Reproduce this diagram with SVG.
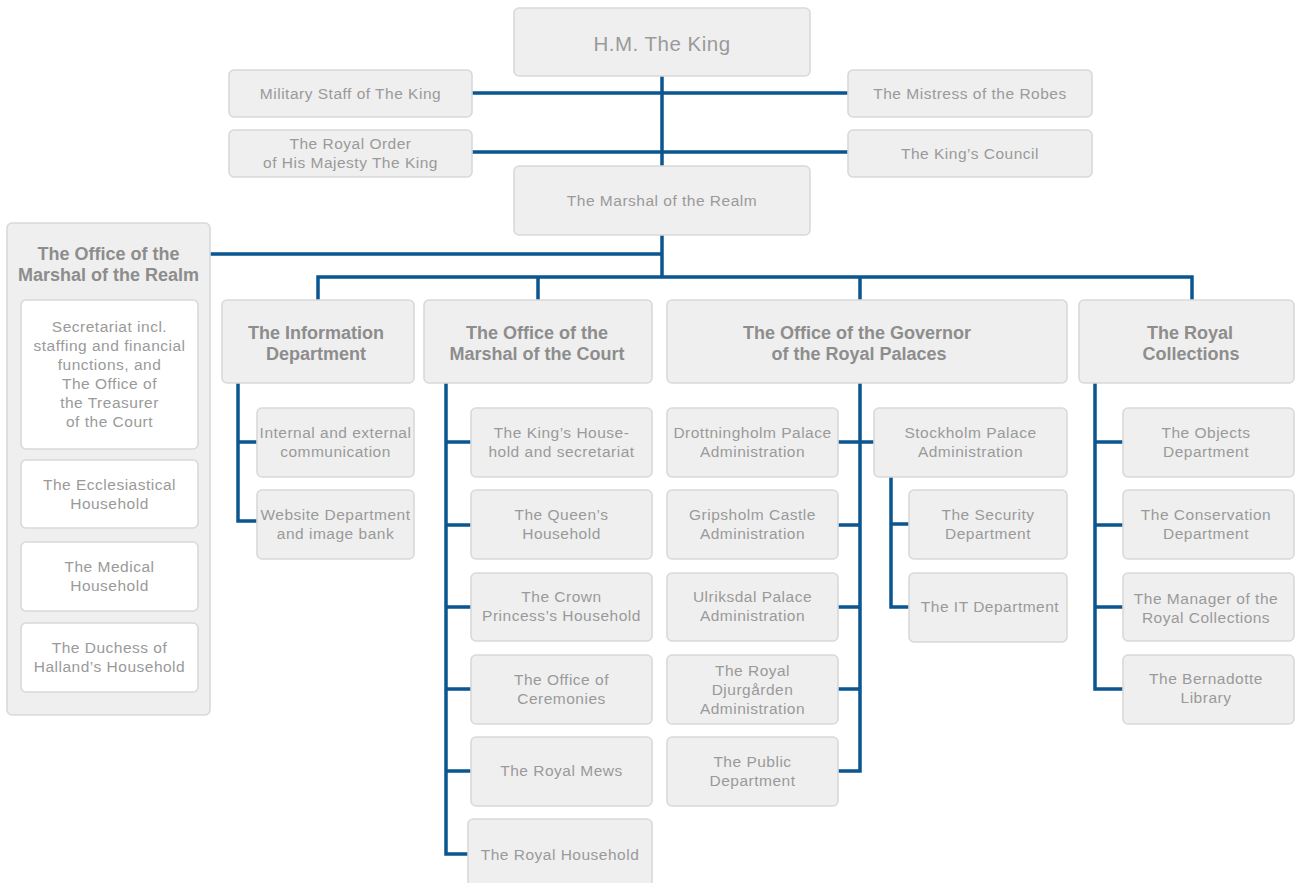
<svg xmlns="http://www.w3.org/2000/svg" width="1295" height="883" viewBox="0 0 1295 883">
<style>
.bx{fill:#efefef;stroke:#d9d9d9;stroke-width:1.6}
.wb{fill:#ffffff;stroke:#d9d9d9;stroke-width:1.6}
.t{font-family:"Liberation Sans",Arial,sans-serif;font-size:15.5px;letter-spacing:0.5px;fill:#9a9a9a;text-anchor:middle}
.b{font-family:"Liberation Sans",Arial,sans-serif;font-size:18px;font-weight:bold;fill:#8d8d8d;text-anchor:middle}
.k{font-family:"Liberation Sans",Arial,sans-serif;font-size:20.5px;letter-spacing:0.5px;fill:#9a9a9a;text-anchor:middle}
.c{fill:none;stroke:#0b5590;stroke-width:3.5;stroke-linejoin:miter}
</style>
<rect width="1295" height="883" fill="#ffffff"/>
<g id="connectors">
<path class="c" d="M662,76V166M472,93H848M472,152H848"/>
<path class="c" d="M662,235V277M210,254H662M318,300V277H1192V300M538,277V300M860,277V300"/>
<path class="c" d="M238,383V521H257M238,442H257"/>
<path class="c" d="M446,383V854H468M446,442H471M446,525H471M446,607H471M446,689H471M446,771H471"/>
<path class="c" d="M860,383V771H838M838,442H874M838,525H860M838,607H860M838,689H860"/>
<path class="c" d="M891,477V607H909M891,524H909"/>
<path class="c" d="M1095,383V689H1123M1095,442H1123M1095,525H1123M1095,607H1123"/>
</g>
<g id="king"><rect class="bx" x="514" y="8" width="296" height="68" rx="5"/><text class="k" x="662" y="51">H.M. The King</text></g>
<g id="military"><rect class="bx" x="229" y="70" width="243" height="47" rx="5"/><text class="t" x="350.5" y="98.5">Military Staff of The King</text></g>
<g id="royal-order"><rect class="bx" x="229" y="130" width="243" height="47" rx="5"/><text class="t" x="350.5" y="148.5">The Royal Order</text><text class="t" x="350.5" y="167.5">of His Majesty The King</text></g>
<g id="mistress"><rect class="bx" x="848" y="70" width="244" height="47" rx="5"/><text class="t" x="970" y="98.5">The Mistress of the Robes</text></g>
<g id="council"><rect class="bx" x="848" y="130" width="244" height="47" rx="5"/><text class="t" x="970" y="158.5">The King’s Council</text></g>
<g id="marshal-realm"><rect class="bx" x="514" y="166" width="296" height="69" rx="5"/><text class="t" x="662" y="205.5">The Marshal of the Realm</text></g>
<g id="office-realm">
<rect class="bx" x="7" y="223" width="203" height="492" rx="5"/>
<text class="b" x="108.5" y="260">The Office of the</text><text class="b" x="108.5" y="281">Marshal of the Realm</text>
<g id="secretariat"><rect class="wb" x="21" y="300" width="177" height="149" rx="5"/>
<text class="t" x="109.5" y="332">Secretariat incl.</text><text class="t" x="109.5" y="351">staffing and financial</text><text class="t" x="109.5" y="370">functions, and</text><text class="t" x="109.5" y="389">The Office of</text><text class="t" x="109.5" y="408">the Treasurer</text><text class="t" x="109.5" y="427">of the Court</text></g>
<g id="ecclesiastical"><rect class="wb" x="21" y="460" width="177" height="68" rx="5"/><text class="t" x="109.5" y="489.5">The Ecclesiastical</text><text class="t" x="109.5" y="508.5">Household</text></g>
<g id="medical"><rect class="wb" x="21" y="542" width="177" height="69" rx="5"/><text class="t" x="109.5" y="572">The Medical</text><text class="t" x="109.5" y="591">Household</text></g>
<g id="duchess"><rect class="wb" x="21" y="623" width="177" height="69" rx="5"/><text class="t" x="109.5" y="653">The Duchess of</text><text class="t" x="109.5" y="672">Halland’s Household</text></g>
</g>
<g id="information"><rect class="bx" x="222" y="300" width="192" height="83" rx="5"/><text class="b" x="316" y="339">The Information</text><text class="b" x="316" y="360">Department</text></g>
<g id="marshal-court"><rect class="bx" x="424" y="300" width="228" height="83" rx="5"/><text class="b" x="537" y="339">The Office of the</text><text class="b" x="537" y="360">Marshal of the Court</text></g>
<g id="governor"><rect class="bx" x="667" y="300" width="400" height="83" rx="5"/><text class="b" x="857" y="339">The Office of the Governor</text><text class="b" x="859" y="360">of the Royal Palaces</text></g>
<g id="collections"><rect class="bx" x="1079" y="300" width="215" height="83" rx="5"/><text class="b" x="1190" y="339">The Royal</text><text class="b" x="1191" y="360">Collections</text></g>
<g id="internal"><rect class="bx" x="257" y="408" width="157" height="69" rx="5"/><text class="t" x="335.5" y="438">Internal and external</text><text class="t" x="335.5" y="457">communication</text></g>
<g id="website"><rect class="bx" x="257" y="490" width="157" height="69" rx="5"/><text class="t" x="335.5" y="520">Website Department</text><text class="t" x="335.5" y="539">and image bank</text></g>
<g id="kings-household"><rect class="bx" x="471" y="408" width="181" height="69" rx="5"/><text class="t" x="561.5" y="438">The King’s House-</text><text class="t" x="561.5" y="457">hold and secretariat</text></g>
<g id="queens-household"><rect class="bx" x="471" y="490" width="181" height="69" rx="5"/><text class="t" x="561.5" y="520">The Queen’s</text><text class="t" x="561.5" y="539">Household</text></g>
<g id="crown-princess"><rect class="bx" x="471" y="573" width="181" height="68" rx="5"/><text class="t" x="561.5" y="602">The Crown</text><text class="t" x="561.5" y="621">Princess’s Household</text></g>
<g id="ceremonies"><rect class="bx" x="471" y="655" width="181" height="69" rx="5"/><text class="t" x="561.5" y="685">The Office of</text><text class="t" x="561.5" y="704">Ceremonies</text></g>
<g id="mews"><rect class="bx" x="471" y="737" width="181" height="69" rx="5"/><text class="t" x="561.5" y="776">The Royal Mews</text></g>
<g id="royal-household"><rect class="bx" x="468" y="819" width="184" height="80" rx="5"/><text class="t" x="560" y="860">The Royal Household</text></g>
<g id="drottningholm"><rect class="bx" x="667" y="408" width="171" height="69" rx="5"/><text class="t" x="752.5" y="438">Drottningholm Palace</text><text class="t" x="752.5" y="457">Administration</text></g>
<g id="gripsholm"><rect class="bx" x="667" y="490" width="171" height="69" rx="5"/><text class="t" x="752.5" y="520">Gripsholm Castle</text><text class="t" x="752.5" y="539">Administration</text></g>
<g id="ulriksdal"><rect class="bx" x="667" y="573" width="171" height="68" rx="5"/><text class="t" x="752.5" y="602">Ulriksdal Palace</text><text class="t" x="752.5" y="621">Administration</text></g>
<g id="djurgarden"><rect class="bx" x="667" y="655" width="171" height="69" rx="5"/><text class="t" x="752.5" y="675.5">The Royal</text><text class="t" x="752.5" y="694.5">Djurgården</text><text class="t" x="752.5" y="713.5">Administration</text></g>
<g id="public"><rect class="bx" x="667" y="737" width="171" height="69" rx="5"/><text class="t" x="752.5" y="767">The Public</text><text class="t" x="752.5" y="786">Department</text></g>
<g id="stockholm"><rect class="bx" x="874" y="408" width="193" height="69" rx="5"/><text class="t" x="970.5" y="438">Stockholm Palace</text><text class="t" x="970.5" y="457">Administration</text></g>
<g id="security"><rect class="bx" x="909" y="490" width="158" height="69" rx="5"/><text class="t" x="988" y="520">The Security</text><text class="t" x="988" y="539">Department</text></g>
<g id="it"><rect class="bx" x="909" y="573" width="158" height="69" rx="5"/><text class="t" x="990" y="612">The IT Department</text></g>
<g id="objects"><rect class="bx" x="1123" y="408" width="171" height="69" rx="5"/><text class="t" x="1206" y="438">The Objects</text><text class="t" x="1206" y="457">Department</text></g>
<g id="conservation"><rect class="bx" x="1123" y="490" width="171" height="69" rx="5"/><text class="t" x="1206" y="520">The Conservation</text><text class="t" x="1206" y="539">Department</text></g>
<g id="manager"><rect class="bx" x="1123" y="573" width="171" height="68" rx="5"/><text class="t" x="1206" y="604">The Manager of the</text><text class="t" x="1206" y="623">Royal Collections</text></g>
<g id="bernadotte"><rect class="bx" x="1123" y="655" width="171" height="69" rx="5"/><text class="t" x="1206" y="684">The Bernadotte</text><text class="t" x="1206" y="703">Library</text></g>
</svg>
